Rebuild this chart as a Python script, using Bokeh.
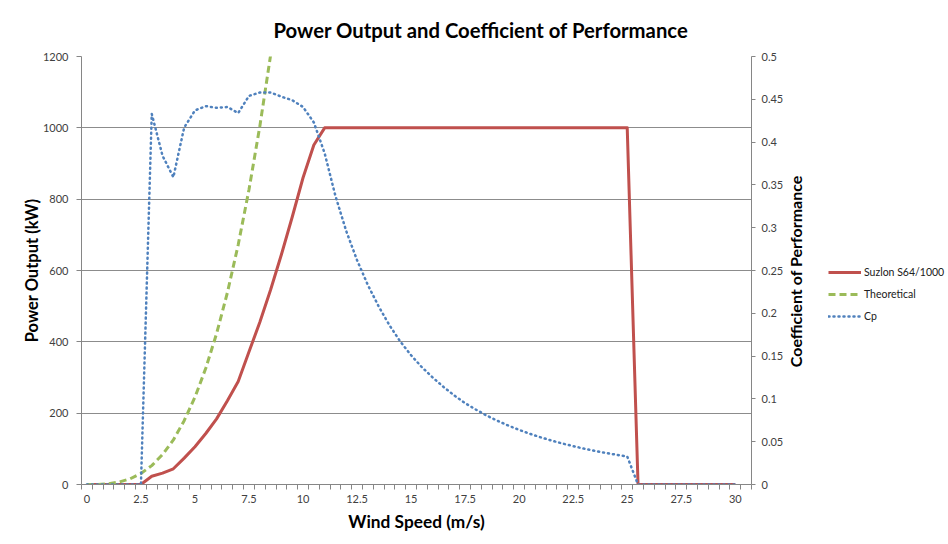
import math
from bokeh.plotting import figure
from bokeh.layouts import row
from bokeh.models import (Range1d, LinearAxis, FixedTicker, Legend, LegendItem,
                          NumeralTickFormatter, Plot, Label)
from bokeh.embed import file_html
from bokeh.resources import INLINE

# ---- data ----
wind_speed = [0, 0.5, 1, 1.5, 2, 2.5, 3, 3.5, 4, 4.5, 5, 5.5, 6, 6.5, 7, 7.5, 8, 8.5,
              9, 9.5, 10, 10.5, 11, 11.5, 12, 12.5, 13, 13.5, 14, 14.5, 15, 15.5,
              16, 16.5, 17, 17.5, 18, 18.5, 19, 19.5, 20, 20.5, 21, 21.5, 22, 22.5,
              23, 23.5, 24, 24.5, 25, 25.5, 26, 26.5, 27, 27.5, 28, 28.5, 29, 29.5, 30]

suzlon_kw = [0, 0, 0, 0, 0, 0, 23, 32, 44, 74, 106, 143, 184, 235, 289, 372, 455, 546,
             645, 750, 860, 952, 1000, 1000, 1000, 1000, 1000, 1000, 1000, 1000, 1000,
             1000, 1000, 1000, 1000, 1000, 1000, 1000, 1000, 1000, 1000, 1000, 1000,
             1000, 1000, 1000, 1000, 1000, 1000, 1000, 1000, 0, 0, 0, 0, 0, 0, 0, 0, 0, 0]

theory_speed = [0, 0.5, 1, 1.5, 2, 2.5, 3, 3.5, 4, 4.5, 5, 5.5, 6, 6.5, 7, 7.5, 8, 8.5]
theoretical_kw = [0, 0.3, 2, 7, 16, 31, 53, 84, 125, 179, 245, 326, 423, 538, 672, 827,
                  1004, 1204]

cp = [0, 0, 0, 0, 0, 0, 0.433, 0.384, 0.359, 0.417, 0.437, 0.442, 0.440, 0.441, 0.434,
      0.454, 0.458, 0.458, 0.453, 0.449, 0.441, 0.423, 0.387, 0.337, 0.296, 0.262,
      0.233, 0.208, 0.186, 0.167, 0.151, 0.137, 0.125, 0.114, 0.104, 0.095, 0.0875,
      0.0805, 0.0744, 0.0688, 0.0638, 0.0592, 0.0551, 0.0513, 0.0479, 0.0448, 0.0419,
      0.0393, 0.0369, 0.0347, 0.0327, 0, 0, 0, 0, 0, 0, 0, 0, 0, 0]

series_names = ["Suzlon S64/1000", "Theoretical", "Cp"]
x_tick_labels = [0, 2.5, 5, 7.5, 10, 12.5, 15, 17.5, 20, 22.5, 25, 27.5, 30]
power_ticks = [0, 200, 400, 600, 800, 1000, 1200]
cp_ticks = [0, 0.05, 0.1, 0.15, 0.2, 0.25, 0.3, 0.35, 0.4, 0.45, 0.5]

FONT = "Lato"
AXIS_GRAY = "#868686"
TEXT = "#404040"
RED, GREEN, BLUE = "#C0504D", "#9BBB59", "#4F81BD"

H = 544
p = figure(width=787, height=H, output_backend="svg", toolbar_location=None,
           x_range=Range1d(-0.25, 30.75), y_range=Range1d(0, 1200),
           min_border_left=81, min_border_right=36, min_border_top=56,
           min_border_bottom=60)
p.outline_line_color = None
p.extra_y_ranges = {"cp": Range1d(0, 0.5)}

# title
p.title.text = "Power Output and Coefficient of Performance"
p.title.text_font = FONT
p.title.text_font_size = "20.3px"
p.title.text_font_style = "bold"
p.title.text_color = "#000000"
p.title.align = "left"
p.title.offset = 192
p.title.standoff = 29

# grid
p.xgrid.visible = False
p.ygrid.ticker = FixedTicker(ticks=[200, 400, 600, 800, 1000])
p.ygrid.grid_line_color = "#8c8c8c"
p.ygrid.grid_line_width = 1

# x axis
xa = p.xaxis[0]
xa.ticker = FixedTicker(ticks=x_tick_labels,
                        minor_ticks=[-0.25 + 0.5 * i for i in range(63)])
xa.formatter = NumeralTickFormatter(format="0.[0]")
xa.major_tick_line_color = None
xa.minor_tick_line_color = AXIS_GRAY
xa.minor_tick_out = 5
xa.minor_tick_in = 0
xa.axis_line_color = AXIS_GRAY
xa.major_label_text_font = FONT
xa.major_label_text_font_size = "11px"
xa.major_label_text_color = TEXT
xa.major_label_standoff = 4
xa.axis_label = "Wind Speed (m/s)"
xa.axis_label_text_font = FONT
xa.axis_label_text_font_size = "17.3px"
xa.axis_label_text_font_style = "bold"
xa.axis_label_text_color = "#000000"
xa.axis_label_standoff = 5

# left axis
ya = p.yaxis[0]
ya.ticker = FixedTicker(ticks=power_ticks)
ya.formatter = NumeralTickFormatter(format="0")
ya.minor_tick_line_color = None
ya.major_tick_out = 5
ya.major_tick_in = 0
ya.major_tick_line_color = AXIS_GRAY
ya.axis_line_color = AXIS_GRAY
ya.major_label_text_font = FONT
ya.major_label_text_font_size = "11px"
ya.major_label_text_color = TEXT
ya.major_label_standoff = 8
ya.axis_label = "Power Output (kW)"
ya.axis_label_text_font = FONT
ya.axis_label_text_font_size = "16.5px"
ya.axis_label_text_font_style = "bold"
ya.axis_label_text_color = "#000000"
ya.axis_label_standoff = -2

# right axis
ra = LinearAxis(y_range_name="cp", ticker=FixedTicker(ticks=cp_ticks),
                formatter=NumeralTickFormatter(format="0.[00]"))
ra.minor_tick_line_color = None
ra.major_tick_out = 4
ra.major_tick_in = 0
ra.major_tick_line_color = AXIS_GRAY
ra.axis_line_color = AXIS_GRAY
ra.major_label_text_font = FONT
ra.major_label_text_font_size = "11px"
ra.major_label_text_color = TEXT
ra.major_label_standoff = 6
p.add_layout(ra, "right")

# series
r_suz = p.line(wind_speed, suzlon_kw, line_color=RED, line_width=3,
               line_join="round")
r_th = p.line(theory_speed, theoretical_kw, line_color=GREEN, line_width=3,
              line_dash="7 4")
r_cp = p.line(wind_speed, cp, y_range_name="cp", line_color=BLUE,
              line_width=2.5, line_dash="1 4", line_cap="round")

# side panel: right axis title + legend
side_w = 948 - 787
q = Plot(width=side_w, height=H, x_range=Range1d(0, side_w), y_range=Range1d(0, H),
         min_border=0, min_border_left=0, min_border_right=0, min_border_top=0,
         min_border_bottom=0, outline_line_color=None, toolbar_location=None,
         output_backend="svg", title=None)
l_suz = q.add_glyph(r_suz.glyph.clone())
l_th = q.add_glyph(r_th.glyph.clone())
l_cp = q.add_glyph(r_cp.glyph.clone())

q.add_layout(Label(x=7.5, y=H - 273, text="Coefficient of Performance",
                   angle=math.pi / 2, text_align="center", text_baseline="middle",
                   text_font=FONT, text_font_size="16px", text_font_style="bold",
                   text_color="#000000"))

legend = Legend(items=[LegendItem(label=series_names[0], renderers=[l_suz]),
                       LegendItem(label=series_names[1], renderers=[l_th]),
                       LegendItem(label=series_names[2], renderers=[l_cp])],
                location=(41, 161), margin=0, padding=0, spacing=8,
                glyph_width=33, glyph_height=14, label_height=14,
                label_standoff=3, border_line_color=None,
                background_fill_alpha=0)
legend.label_text_font = FONT
legend.label_text_font_size = "10.5px"
legend.label_text_color = "#202020"
q.add_layout(legend, "center")

layout = row(p, q)
open("out.html", "w").write(file_html(layout, INLINE))
